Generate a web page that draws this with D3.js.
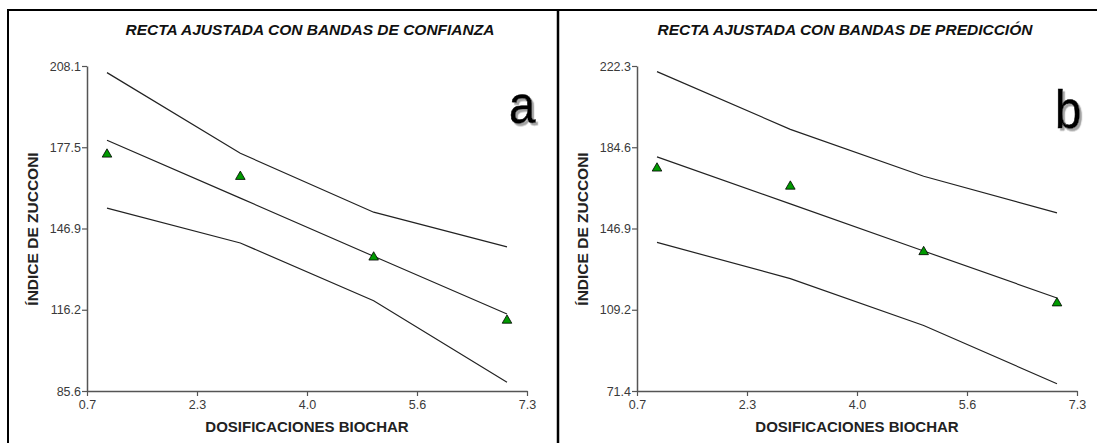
<!DOCTYPE html>
<html>
<head>
<meta charset="utf-8">
<script src="https://cdn.jsdelivr.net/npm/d3@7"></script>
<style>
  html, body { margin: 0; padding: 0; background: #fff; }
  svg { display: block; }
  text { font-family: "Liberation Sans", Arial, sans-serif; }
</style>
</head>
<body>
<svg id="chart" width="1097" height="443"></svg>
<script>
// ---- data ----
const dosis      = [1, 3, 5, 7];
const zucconi    = [174.8, 166.4, 136.0, 112.2];
const ajustada   = [180.1, 158.3, 136.4, 114.6];
const confSup    = [205.6, 175.2, 153.0, 139.9];
const confInf    = [154.5, 141.4, 119.6, 88.9];
const predSup    = [219.7, 192.9, 171.1, 154.1];
const predInf    = [140.4, 123.6, 101.8, 74.8];
const xTickLabels  = ["0.7", "2.3", "4.0", "5.6", "7.3"];
const yTickLabelsA = ["85.6", "116.2", "146.9", "177.5", "208.1"];
const yTickLabelsB = ["71.4", "109.2", "146.9", "184.6", "222.3"];
const titles = ["RECTA AJUSTADA CON BANDAS DE CONFIANZA", "RECTA AJUSTADA CON BANDAS DE PREDICCIÓN"];
const panelLetters = ["a", "b"];
const xTitle = "DOSIFICACIONES BIOCHAR";
const yTitle = "ÍNDICE DE ZUCCONI";

const svg = d3.select("#chart");

// shadow filter for the panel letters
const defs = svg.append("defs");
const f = defs.append("filter").attr("id", "shadow").attr("x", "-20%").attr("y", "-20%").attr("width", "160%").attr("height", "160%");
f.append("feDropShadow").attr("dx", 2.5).attr("dy", 2.5).attr("stdDeviation", 0.6)
  .attr("flood-color", "#999").attr("flood-opacity", 0.9);

// frame
const frame = svg.append("g").attr("stroke", "#000").attr("fill", "none");
frame.append("line").attr("x1", 8).attr("x2", 1097).attr("y1", 10).attr("y2", 10).attr("stroke-width", 2);
frame.append("line").attr("x1", 8).attr("x2", 8).attr("y1", 9).attr("y2", 443).attr("stroke-width", 2);
frame.append("line").attr("x1", 558).attr("x2", 558).attr("y1", 9).attr("y2", 443).attr("stroke-width", 2.5);

const panels = [
  { ox: 0,   upper: confSup, lower: confInf, yLabels: yTickLabelsA, title: titles[0], titleX: 310, letter: panelLetters[0], letterX: 509, letterY: 123 },
  { ox: 550, upper: predSup, lower: predInf, yLabels: yTickLabelsB, title: titles[1], titleX: 845, letter: panelLetters[1], letterX: 1055, letterY: 128 }
];

panels.forEach(p => {
  const g = svg.append("g");
  const x0 = 87 + p.ox, x1 = 527 + p.ox;
  const yTop = 66, yBot = 391;
  const xDom = [+xTickLabels[0], +xTickLabels[xTickLabels.length - 1]];
  const yDom = [+p.yLabels[0], +p.yLabels[p.yLabels.length - 1]];
  const x = d3.scaleLinear().domain(xDom).range([x0, x1]);
  const y = d3.scaleLinear().domain(yDom).range([yBot, yTop]);
  const xTickVals = xTickLabels.map((_, i) => xDom[0] + i * (xDom[1] - xDom[0]) / (xTickLabels.length - 1));
  const yTickVals = p.yLabels.map((_, i) => yDom[0] + i * (yDom[1] - yDom[0]) / (p.yLabels.length - 1));

  const xAxis = d3.axisBottom(x).tickValues(xTickVals).tickFormat((d, i) => xTickLabels[i]).tickSize(5).tickSizeOuter(0);
  const yAxis = d3.axisLeft(y).tickValues(yTickVals).tickFormat((d, i) => p.yLabels[i]).tickSize(5).tickSizeOuter(0);

  const gx = g.append("g").attr("transform", `translate(0,${yBot})`).call(xAxis);
  const gy = g.append("g").attr("transform", `translate(${x0},0)`).call(yAxis);
  [gx, gy].forEach(a => {
    a.select(".domain").attr("stroke", "#555").attr("stroke-width", 1.5);
    a.selectAll(".tick line").attr("stroke", "#555").attr("stroke-width", 1.2);
    a.selectAll(".tick text").attr("fill", "#3a3a3a").style("font-size", "12.5px").style("font-family", "'Liberation Sans', Arial, sans-serif");
  });
  gx.selectAll(".tick text").attr("dy", "0.95em").attr("y", 6);
  gy.selectAll(".tick text").attr("x", -6);

  // lines
  const line = d3.line().x((d, i) => x(dosis[i])).y(d => y(d));
  [p.upper, ajustada, p.lower].forEach(arr => {
    g.append("path").datum(arr).attr("d", line)
      .attr("fill", "none").attr("stroke", "#222").attr("stroke-width", 1.2);
  });

  // points
  const sym = d3.symbol().type(d3.symbolTriangle).size(40);
  g.selectAll("path.pt").data(zucconi).enter().append("path").attr("class", "pt")
    .attr("d", sym)
    .attr("transform", (d, i) => `translate(${x(dosis[i])},${y(d)})`)
    .attr("fill", "#009a00").attr("stroke", "#000").attr("stroke-width", 0.8);

  // title
  g.append("text").attr("x", p.titleX).attr("y", 35).attr("text-anchor", "middle")
    .style("font-size", "15.5px").style("font-weight", "bold").style("font-style", "italic")
    .attr("fill", "#111").text(p.title);

  // axis titles
  g.append("text").attr("x", (x0 + x1) / 2).attr("y", 432).attr("text-anchor", "middle")
    .style("font-size", "15px").style("font-weight", "bold").attr("fill", "#222").text(xTitle);
  g.append("text").attr("transform", `translate(${38 + p.ox},${229}) rotate(-90)`).attr("text-anchor", "middle")
    .style("font-size", "15.5px").style("font-weight", "bold").attr("fill", "#222").text(yTitle);

  // panel letter with shadow
  g.append("text").attr("transform", `translate(${p.letterX},${p.letterY}) scale(0.88,1)`)
    .style("font-size", "54px").attr("fill", "#000").attr("stroke", "#000").attr("stroke-width", 0.6)
    .attr("filter", "url(#shadow)").text(p.letter);
});
</script>
</body>
</html>
